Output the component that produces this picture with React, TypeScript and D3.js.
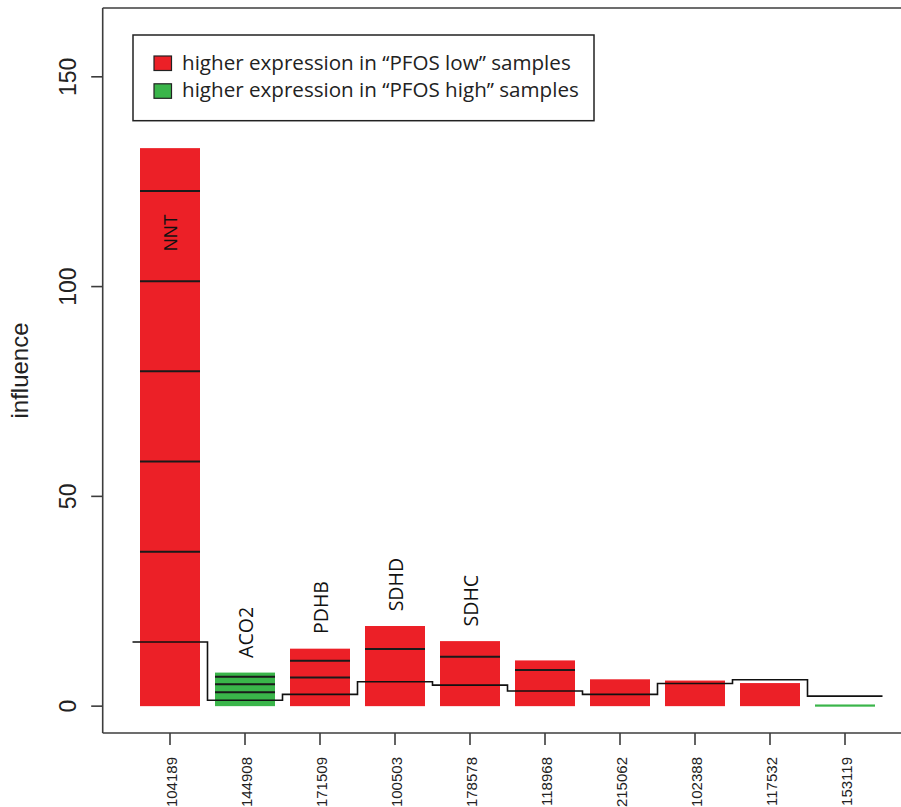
import { useMemo } from 'react';
import { scaleBand, scaleLinear, line as d3line, curveStepAfter } from 'd3';

const GENES = ['104189', '144908', '171509', '100503', '178578', '118968', '215062', '102388', '117532', '153119'];
const LABELS = ['NNT', 'ACO2', 'PDHB', 'SDHD', 'SDHC', '', '', '', '', ''];
const GROUP = ['low', 'high', 'low', 'low', 'low', 'low', 'low', 'low', 'low', 'high'];
const HEIGHTS = [133, 8.0, 13.7, 19.1, 15.5, 10.9, 6.4, 6.1, 5.5, 0.4];
// black rules drawn across each bar
const INNER = [
  [122.8, 101.3, 79.8, 58.3, 36.8],
  [7.0, 5.2, 3.3],
  [10.8, 6.8],
  [13.6],
  [11.8],
  [8.6],
  [],
  [],
  [],
  [],
];
const STEP = [15.3, 1.4, 2.8, 5.8, 5.0, 3.6, 2.8, 5.4, 6.3, 2.4];
const Y_TICKS = [0, 50, 100, 150];
const LEGEND = [
  { key: 'low', text: 'higher expression in “PFOS low” samples' },
  { key: 'high', text: 'higher expression in “PFOS high” samples' },
];

const W = 901;
const H = 807;
const PL = 102.7;
const PT = 8;
const PB = 733;
const RED = '#ec2027';
const GREEN = '#3ab54a';
const AXIS = '#3c3c3c';
const LABEL_CAP = 108.4;

export default function App() {
  const x = useMemo(
    () => scaleBand<string>().domain(GENES).range([132.5, 882.5]).paddingInner(0.2).paddingOuter(0.1),
    []
  );
  const y = useMemo(() => scaleLinear().domain([-6.4, 166.4]).range([PB, PT]), []);
  const bw = x.bandwidth();
  const half = (x.step() - bw) / 2;

  const stepPts: [number, number][] = GENES.map((g, i) => [x(g)! - half, y(STEP[i])]);
  stepPts.push([x(GENES[GENES.length - 1])! + bw + half, y(STEP[STEP.length - 1])]);
  const stepPath = d3line().curve(curveStepAfter)(stepPts) ?? '';

  const col = (g: string) => (g === 'low' ? RED : GREEN);

  return (
    <svg width={W} height={H} style={{ position: 'absolute', left: 0, top: 0, background: '#fff' }}>
      {/* bars */}
      {GENES.map((g, i) => (
        <rect
          key={g}
          x={x(g)}
          y={y(HEIGHTS[i])}
          width={bw}
          height={Math.max(2.2, y(0) - y(HEIGHTS[i]))}
          fill={col(GROUP[i])}
        />
      ))}
      {GENES.map((g, i) =>
        INNER[i].map((v, j) => (
          <line key={g + j} x1={x(g)} x2={x(g)! + bw} y1={y(v)} y2={y(v)} stroke="#1a1a1a" strokeWidth={2} />
        ))
      )}
      <path d={stepPath} fill="none" stroke="#111" strokeWidth={1.6} />

      {/* gene labels */}
      {GENES.map((g, i) => {
        if (!LABELS[i]) return null;
        const inside = HEIGHTS[i] + 3.5 > LABEL_CAP;
        const v = Math.min(HEIGHTS[i] + 3.5, LABEL_CAP);
        const cx = x(g)! + bw / 2;
        const yy = y(v);
        return (
          <text
            key={g}
            transform={`translate(${cx + (inside ? 6.5 : 8)},${yy}) rotate(-90)`}
            fontFamily={inside ? 'Liberation Sans, Arial, sans-serif' : 'Open Sans, sans-serif'}
            fontSize={inside ? 18 : 19.5}
            fill="#111"
          >
            {LABELS[i]}
          </text>
        );
      })}

      {/* frame */}
      <line x1={PL} x2={PL} y1={PT} y2={PB} stroke={AXIS} strokeWidth={1.6} />
      <line x1={PL} x2={W + 5} y1={PT} y2={PT} stroke={AXIS} strokeWidth={1.6} />
      <line x1={PL} x2={W + 5} y1={PB} y2={PB} stroke={AXIS} strokeWidth={1.6} />

      {/* y axis */}
      {Y_TICKS.map((t) => (
        <g key={t}>
          <line x1={PL - 11.5} x2={PL} y1={y(t)} y2={y(t)} stroke={AXIS} strokeWidth={1.6} />
          <text
            transform={`translate(76,${y(t)}) rotate(-90)`}
            textAnchor="middle"
            fontFamily="Liberation Sans, Arial, sans-serif"
            fontSize={23}
            fill="#222"
          >
            {t}
          </text>
        </g>
      ))}
      <text
        transform={`translate(28,${(PT + PB) / 2}) rotate(-90)`}
        textAnchor="middle"
        fontFamily="Liberation Sans, Arial, sans-serif"
        fontSize={24}
        fill="#222"
      >
        influence
      </text>

      {/* x axis */}
      {GENES.map((g) => {
        const cx = x(g)! + bw / 2;
        return (
          <g key={g}>
            <line x1={cx} x2={cx} y1={PB} y2={PB + 12} stroke={AXIS} strokeWidth={1.6} />
            <text
              transform={`translate(${cx + 7},${PB + 24}) rotate(-90)`}
              textAnchor="end"
              fontFamily="Liberation Sans, Arial, sans-serif"
              fontSize={15}
              fill="#222"
            >
              {g}
            </text>
          </g>
        );
      })}

      {/* legend */}
      <rect x={133} y={35} width={461} height={85.7} fill="#fff" stroke="#222" strokeWidth={1.5} />
      {LEGEND.map((d, i) => (
        <g key={d.key} transform={`translate(0,${i * 27.8})`}>
          <rect x={154} y={56} width={17.5} height={14.5} fill={col(d.key)} stroke="#222" strokeWidth={1.2} />
          <text x={182} y={69.5} fontFamily="Open Sans, sans-serif" fontSize={20.6} fill="#222">
            {d.text}
          </text>
        </g>
      ))}
    </svg>
  );
}
